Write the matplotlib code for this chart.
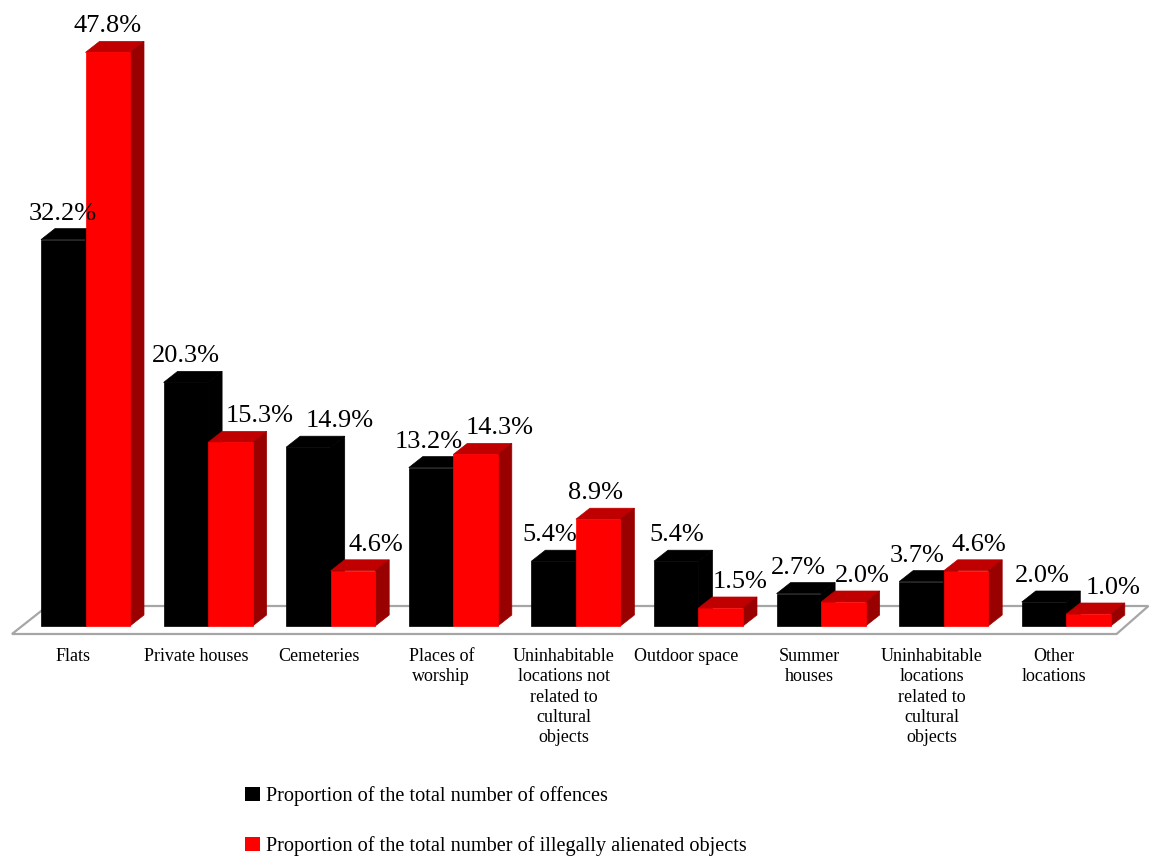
import matplotlib
matplotlib.use("Agg")
import matplotlib.pyplot as plt
from matplotlib.patches import Polygon, Patch

# data
categories = ["Flats", "Private houses", "Cemeteries", "Places of\nworship",
              "Uninhabitable\nlocations not\nrelated to\ncultural\nobjects",
              "Outdoor space", "Summer\nhouses",
              "Uninhabitable\nlocations\nrelated to\ncultural\nobjects",
              "Other\nlocations"]
offences = [32.2, 20.3, 14.9, 13.2, 5.4, 5.4, 2.7, 3.7, 2.0]
alienated = [47.8, 15.3, 4.6, 14.3, 8.9, 1.5, 2.0, 4.6, 1.0]
series_names = ["Proportion of the total number of offences",
                "Proportion of the total number of illegally alienated objects"]

# horizontal nudges of the value labels (pixels), as placed in the original
nudge_black = [0, 0, 31, -2, -4, 1, 0, -4, -2]
nudge_red = [0, 29, 23, 24, -3, 19, 19, 13, 25]

W, H = 1150, 858
SX = 122.6   # px per category
SY = 12.0    # px per percent
X0 = 85.5    # px of first category centre
Y0 = 626     # px of the baseline

plt.rcParams['font.family'] = ['Liberation Serif', 'DejaVu Serif']

fig = plt.figure(figsize=(W / 100, H / 100), dpi=100)
ax = fig.add_axes([0, 0, 1, 1])
ax.set_xlim(-X0 / SX, (W - X0) / SX)
ax.set_ylim((Y0 - H) / SY, Y0 / SY)
ax.axis("off")

w = 44.5 / SX
ddx = 14 / SX
ddy = 11 / SY
n = len(categories)

# floor
floor = Polygon([(-0.6, -8 / SY), (n - 1 + 0.41, -8 / SY),
                 (n - 1 + 0.67, 20 / SY), (-0.31, 20 / SY)],
                closed=True, facecolor="white", edgecolor="#a6a6a6", lw=1.6, zorder=1)
ax.add_patch(floor)


def bar3d(x_left, h, front, top, side, z):
    ax.bar(x_left, h, width=w, align="edge", color=front, edgecolor=front,
           linewidth=0.5, zorder=z + 0.2)
    ax.add_patch(Polygon([(x_left, h), (x_left + ddx, h + ddy),
                          (x_left + w + ddx, h + ddy), (x_left + w, h)],
                         closed=True, facecolor=top, edgecolor=top, lw=0.5, zorder=z))
    ax.add_patch(Polygon([(x_left + w, 0), (x_left + w + ddx, ddy),
                          (x_left + w + ddx, h + ddy), (x_left + w, h)],
                         closed=True, facecolor=side, edgecolor=side, lw=0.5, zorder=z))


gap = 9 / SY
for i in range(n):
    bar3d(i - w, offences[i], "#000000", "#000000", "#000000", 2 + 2 * i)
    bar3d(i, alienated[i], "#ff0000", "#c00000", "#990000", 3 + 2 * i)
    ax.text(i - w / 2 + nudge_black[i] / SX, offences[i] + ddy + gap,
            f"{offences[i]:.1f}%", ha="center", va="baseline", fontsize=19, zorder=30)
    ax.text(i + w / 2 + nudge_red[i] / SX, alienated[i] + ddy + gap,
            f"{alienated[i]:.1f}%", ha="center", va="baseline", fontsize=19, zorder=30)
    ax.text(i - 12 / SX, -22 / SY, categories[i], ha="center", va="top",
            fontsize=13, linespacing=1.25, zorder=30)

handles = [Patch(facecolor="#000000"), Patch(facecolor="#ff0000")]
fig.legend(handles, series_names, loc="upper left", bbox_to_anchor=(245 / W, 1 - 786 / H),
           frameon=False, fontsize=14.6, handlelength=0.72, handleheight=0.72,
           handletextpad=0.3, labelspacing=1.5, borderpad=0, borderaxespad=0)

fig.savefig("out.png", dpi=100)
